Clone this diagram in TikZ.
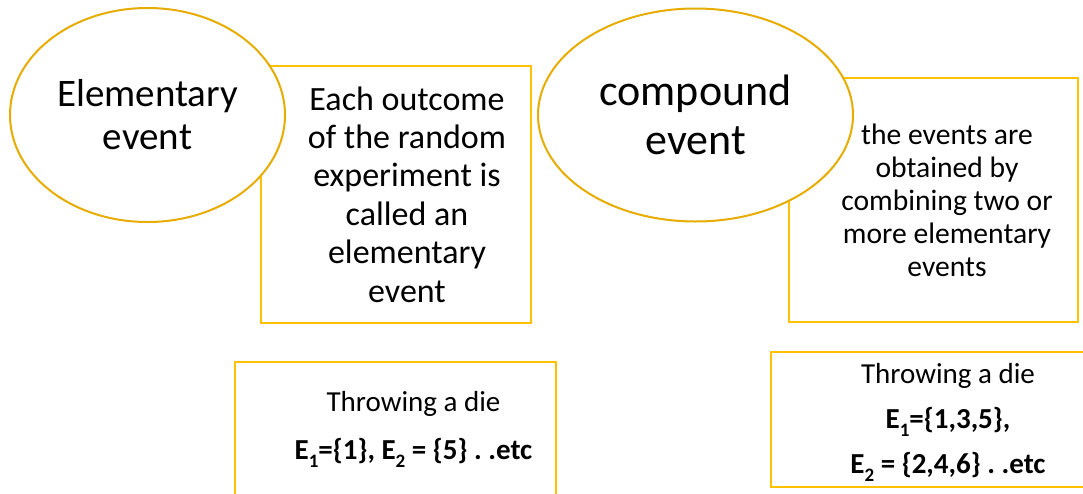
\documentclass[tikz,border=0pt]{standalone}
\usepackage{fontspec}
\setmainfont{Carlito}
\usepackage{tikz}
\usetikzlibrary{positioning,shapes.geometric}
\definecolor{ovalgold}{RGB}{230,172,0}
\definecolor{boxgold}{RGB}{255,192,0}
\newcommand{\lowsub}[1]{\raisebox{-0.28em}{\fontsize{19}{19}\selectfont #1}}
\frenchspacing
\tikzset{
  oval/.style={draw=ovalgold,fill=white,ellipse,line width=2pt,inner sep=0pt,align=center},
  frame/.style={draw=boxgold,line width=2.4pt,rectangle,inner sep=0pt},
  txt/.style={align=center,inner sep=0pt}
}

\begin{document}
\begin{tikzpicture}[x=1pt,y=-1pt]
\useasboundingbox (0,0) rectangle (1083,493);
\node[frame, minimum width=270pt, minimum height=257pt] (defA) at (396,194.5) {};
\node[frame, minimum width=289pt, minimum height=244pt] (defB) at (933.5,200) {};
\node[frame, minimum width=321pt, minimum height=140pt] (exA) at (395.5,432) {};
\node[frame, minimum width=314pt, minimum height=135pt] (exB) at (928,419.5) {};

\node[oval, minimum width=275pt, minimum height=214pt, font=\fontsize{39}{43}\selectfont] (elem) at (147.5,115)
   {Elementary\\event};
\node[oval, minimum width=315pt, minimum height=213pt, font=\fontsize{44}{49}\selectfont] (comp) at (695.5,115)
   {compound\\event};

\node[txt, font=\fontsize{34}{38.4}\selectfont] (defAtxt) at (407,194.5)
   {Each outcome\\of the random\\experiment is\\called an\\elementary\\event};
\node[txt, font=\fontsize{29.6}{33}\selectfont] (defBtxt) at (947,200)
   {the events are\\obtained by\\combining two or\\more elementary\\events};
\node[txt, font=\fontsize{29}{48}\selectfont] (exAtxt) at (413.5,429)
   {Throwing a die\\\textbf{E\lowsub{1}=\{1\}, E\lowsub{2} = \{5\} . .etc}};
\node[txt, font=\fontsize{29}{45}\selectfont] (exBtxt) at (948,422)
   {Throwing a die\\\textbf{E\lowsub{1}=\{1,3,5\},}\\\textbf{E\lowsub{2} = \{2,4,6\} . .etc}};
\end{tikzpicture}
\end{document}
